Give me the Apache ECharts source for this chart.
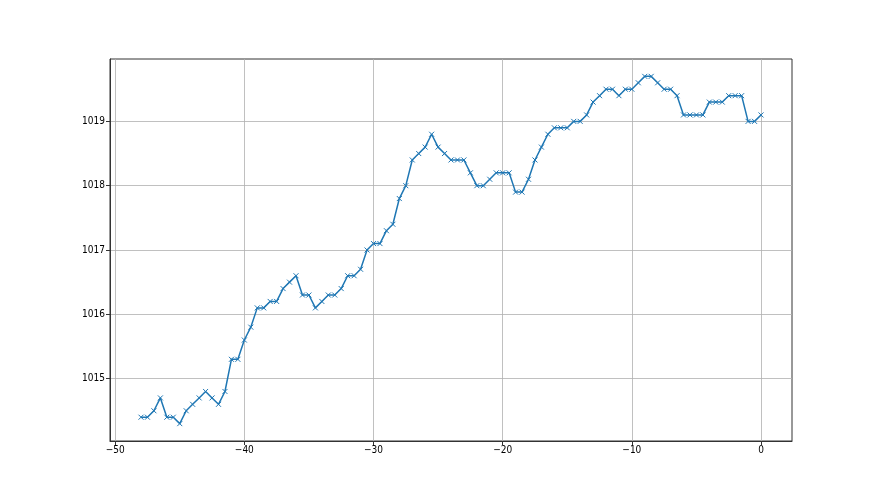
<!DOCTYPE html>
<html>
<head>
<meta charset="utf-8">
<script src="https://cdn.jsdelivr.net/npm/echarts@6/dist/echarts.min.js"></script>
<style>html,body{margin:0;padding:0;background:#fff}#c{width:880px;height:495px}</style>
</head>
<body>
<div id="c"></div>
<script>
var xValues = [-48,-47.5,-47,-46.5,-46,-45.5,-45,-44.5,-44,-43.5,-43,-42.5,-42,-41.5,-41,-40.5,-40,-39.5,-39,-38.5,-38,-37.5,-37,-36.5,-36,-35.5,-35,-34.5,-34,-33.5,-33,-32.5,-32,-31.5,-31,-30.5,-30,-29.5,-29,-28.5,-28,-27.5,-27,-26.5,-26,-25.5,-25,-24.5,-24,-23.5,-23,-22.5,-22,-21.5,-21,-20.5,-20,-19.5,-19,-18.5,-18,-17.5,-17,-16.5,-16,-15.5,-15,-14.5,-14,-13.5,-13,-12.5,-12,-11.5,-11,-10.5,-10,-9.5,-9,-8.5,-8,-7.5,-7,-6.5,-6,-5.5,-5,-4.5,-4,-3.5,-3,-2.5,-2,-1.5,-1,-0.5,0];
var pressure = [1014.4,1014.4,1014.5,1014.7,1014.4,1014.4,1014.3,1014.5,1014.6,1014.7,1014.8,1014.7,1014.6,1014.8,1015.3,1015.3,1015.6,1015.8,1016.1,1016.1,1016.2,1016.2,1016.4,1016.5,1016.6,1016.3,1016.3,1016.1,1016.2,1016.3,1016.3,1016.4,1016.6,1016.6,1016.7,1017.0,1017.1,1017.1,1017.3,1017.4,1017.8,1018.0,1018.4,1018.5,1018.6,1018.8,1018.6,1018.5,1018.4,1018.4,1018.4,1018.2,1018.0,1018.0,1018.1,1018.2,1018.2,1018.2,1017.9,1017.9,1018.1,1018.4,1018.6,1018.8,1018.9,1018.9,1018.9,1019.0,1019.0,1019.1,1019.3,1019.4,1019.5,1019.5,1019.4,1019.5,1019.5,1019.6,1019.7,1019.7,1019.6,1019.5,1019.5,1019.4,1019.1,1019.1,1019.1,1019.1,1019.3,1019.3,1019.3,1019.4,1019.4,1019.4,1019.0,1019.0,1019.1];
var xTicks = [-50,-40,-30,-20,-10,0];
var yTicks = [1015,1016,1017,1018,1019];

var data = xValues.map(function(x, i){ return [x, pressure[i]]; });
var font = "'Liberation Sans Narrow','DejaVu Sans Condensed',sans-serif";
function fmt(v){ return String(v).replace('-', '\u2212'); }
var chart = echarts.init(document.getElementById('c'), null, {renderer:'canvas'});
chart.setOption({
  animation: false,
  backgroundColor: '#fff',
  grid: {left:110, right:88, top:59, bottom:54, show:true, borderColor:'#333', borderWidth:1, backgroundColor:'transparent'},
  xAxis: {
    type:'value', min:-50.4, max:2.4,
    axisLine:{show:true, onZero:false, lineStyle:{color:'#333', width:1}},
    axisTick:{show:true, length:4, customValues:xTicks, lineStyle:{color:'#333'}},
    axisLabel:{customValues:xTicks, formatter:fmt, color:'#000', fontSize:10, fontFamily:font, margin:4, showMinLabel:true, showMaxLabel:true},
    splitLine:{show:true, lineStyle:{color:'#b0b0b0', width:0.8}}
  },
  yAxis: {
    type:'value', min:1014.03, max:1019.97,
    axisLine:{show:true, onZero:false, lineStyle:{color:'#333', width:1}},
    axisTick:{show:true, length:4, customValues:yTicks, lineStyle:{color:'#333'}},
    axisLabel:{customValues:yTicks, formatter:fmt, color:'#000', fontSize:10, fontFamily:font, margin:5},
    splitLine:{show:true, lineStyle:{color:'#b0b0b0', width:0.8}}
  },
  series: [{
    type:'line', data:data,
    symbol:'path://M0 0L10 10M10 0L0 10', symbolSize:5,
    showAllSymbol:true,
    lineStyle:{color:'#1f77b4', width:1.5},
    itemStyle:{color:'#1f77b4', borderColor:'#1f77b4', borderWidth:1}
  }]
});
</script>
</body>
</html>
